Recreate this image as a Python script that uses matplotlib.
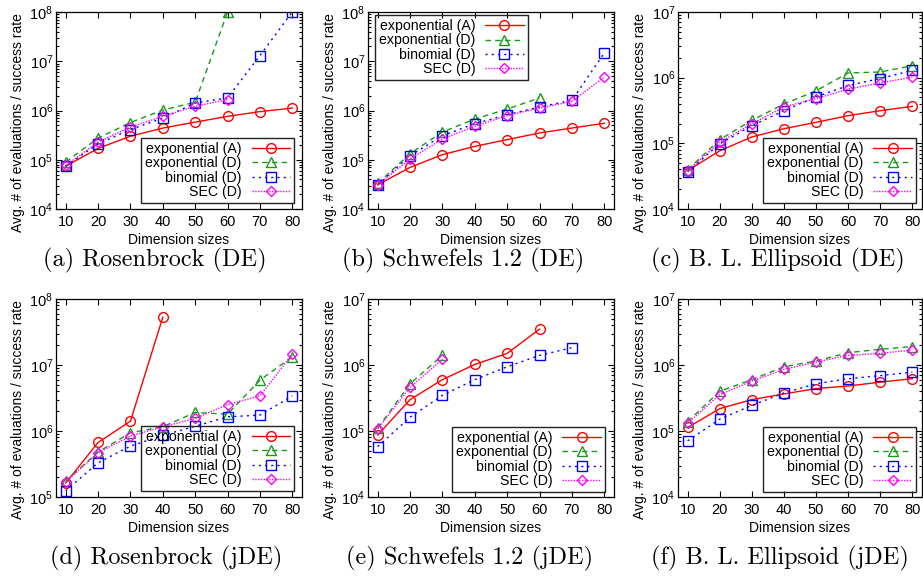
import numpy as np
import matplotlib
matplotlib.use('Agg')
import matplotlib.pyplot as plt
from matplotlib.ticker import LogLocator, LogFormatterSciNotation, NullFormatter, FixedLocator

plt.rcParams['font.family'] = ['Liberation Sans', 'DejaVu Sans']
plt.rcParams['mathtext.default'] = 'regular'
plt.rcParams['font.size'] = 10

nan = np.nan
dims = [10, 20, 30, 40, 50, 60, 70, 80]
series_labels = ['exponential (A)', 'exponential (D)', 'binomial (D)', 'SEC (D)']
captions = ['(a) Rosenbrock (DE)', '(b) Schwefels 1.2 (DE)', '(c) B. L. Ellipsoid (DE)',
            '(d) Rosenbrock (jDE)', '(e) Schwefels 1.2 (jDE)', '(f) B. L. Ellipsoid (jDE)']
xlabel_text = 'Dimension sizes'
ylabel_text = 'Avg. # of evaluations / success rate'

# (a) Rosenbrock (DE)
a_expA = [7.4e4, 1.7e5, 3.0e5, 4.4e5, 5.8e5, 7.6e5, 9.5e5, 1.12e6]
a_expD = [9.0e4, 2.75e5, 5.7e5, 1.02e6, 1.47e6, 1.0e8, nan, nan]
a_bin = [7.4e4, 2.1e5, 4.1e5, 7.0e5, 1.42e6, 1.8e6, 1.3e7, 1.0e8]
a_sec = [7.7e4, 2.3e5, 4.6e5, 7.6e5, 1.22e6, 1.66e6, nan, nan]

# (b) Schwefels 1.2 (DE)
b_expA = [3.1e4, 7.0e4, 1.27e5, 1.87e5, 2.56e5, 3.5e5, 4.4e5, 5.5e5]
b_expD = [3.3e4, 1.33e5, 3.66e5, 6.7e5, 1.07e6, 1.8e6, nan, nan]
b_bin = [3.1e4, 1.21e5, 3.08e5, 5.4e5, 8.2e5, 1.18e6, 1.61e6, 1.47e7]
b_sec = [3.1e4, 1.04e5, 2.64e5, 4.8e5, 7.9e5, 1.12e6, 1.53e6, 4.8e6]

# (c) B. L. Ellipsoid (DE)
c_expA = [3.84e4, 7.7e4, 1.25e5, 1.67e5, 2.09e5, 2.64e5, 3.14e5, 3.66e5]
c_expD = [3.97e4, 1.14e5, 2.24e5, 3.97e5, 6.3e5, 1.18e6, 1.22e6, 1.52e6]
c_bin = [3.7e4, 9.8e4, 1.86e5, 3.14e5, 5.1e5, 7.6e5, 9.7e5, 1.29e6]
c_sec = [3.84e4, 1.04e5, 1.99e5, 3.57e5, 4.8e5, 6.7e5, 8.3e5, 1.02e6]

# (d) Rosenbrock (jDE)
d_expA = [1.63e5, 6.7e5, 1.41e6, 5.3e7, nan, nan, nan, nan]
d_expD = [1.75e5, 4.8e5, 9.4e5, 1.16e6, 1.91e6, 1.8e6, 5.9e6, 1.33e7]
d_bin = [1.24e5, 3.3e5, 5.9e5, 8.6e5, 1.18e6, 1.64e6, 1.74e6, 3.4e6]
d_sec = [1.69e5, 4.7e5, 8.4e5, 1.16e6, 1.55e6, 2.52e6, 3.4e6, 1.45e7]

# (e) Schwefels 1.2 (jDE)
e_expA = [8.7e4, 2.99e5, 6.0e5, 1.02e6, 1.5e6, 3.5e6, nan, nan]
e_expD = [1.1e5, 5.2e5, 1.4e6, nan, nan, nan, nan, nan]
e_bin = [5.8e4, 1.62e5, 3.47e5, 6.0e5, 9.4e5, 1.4e6, 1.83e6, nan]
e_sec = [1.07e5, 4.6e5, 1.22e6, nan, nan, nan, nan, nan]

# (f) B. L. Ellipsoid (jDE)
f_expA = [1.13e5, 2.18e5, 2.99e5, 3.64e5, 4.4e5, 4.8e5, 5.5e5, 6.2e5]
f_expD = [1.39e5, 4.0e5, 6.0e5, 9.4e5, 1.15e6, 1.54e6, 1.73e6, 1.9e6]
f_bin = [7.1e4, 1.51e5, 2.44e5, 3.77e5, 5.2e5, 6.2e5, 6.9e5, 7.8e5]
f_sec = [1.31e5, 3.56e5, 5.7e5, 8.6e5, 1.11e6, 1.4e6, 1.5e6, 1.69e6]

panel_data = [
    [a_expA, a_expD, a_bin, a_sec],
    [b_expA, b_expD, b_bin, b_sec],
    [c_expA, c_expD, c_bin, c_sec],
    [d_expA, d_expD, d_bin, d_sec],
    [e_expA, e_expD, e_bin, e_sec],
    [f_expA, f_expD, f_bin, f_sec],
]
ylims = [(1e4, 1e8), (1e4, 1e8), (1e4, 1e7), (1e5, 1e8), (1e4, 1e7), (1e4, 1e7)]

W, H = 923, 579
fig = plt.figure(figsize=(W / 100, H / 100), dpi=100)

# axes boxes in pixels: left, right, top, bottom
boxes = [(56, 302, 12, 209), (368, 614, 12, 209), (678, 922, 12, 209),
         (56, 302, 299, 497), (368, 614, 299, 497), (678, 922, 299, 497)]
# legend anchors (axes fraction) and loc
leg_cfg = [('lower right', (0.968, 0.03)), ('upper left', (0.028, 0.985)),
           ('lower right', (0.975, 0.03)), ('lower right', (0.968, 0.03)),
           ('lower right', (0.963, 0.025)), ('lower right', (0.975, 0.025))]
cap_pos = [(155, 266), (463, 266), (778, 266), (166, 564), (470, 564), (780, 564)]

styles = [
    dict(color='#ff0000', linestyle='-', marker='o', markersize=7),
    dict(color='#1a9a1a', linestyle=(0, (4, 3)), marker='^', markersize=7.5),
    dict(color='#0000ff', linestyle=(0, (1.5, 3)), marker='s', markersize=6.8),
    dict(color='#ff00ff', linestyle=(0, (1, 1)), marker='D', markersize=5),
]

for i, (box, data) in enumerate(zip(boxes, panel_data)):
    l, r, t, b = box
    ax = fig.add_axes([l / W, 1 - b / H, (r - l) / W, (b - t) / H])
    for lab, vals, st in zip(series_labels, data, styles):
        ax.plot(dims, vals, label=lab, linewidth=1.0, markerfacecolor='none',
                markeredgewidth=1.0, **st)
    ax.set_yscale('log')
    ax.set_ylim(*ylims[i])
    ax.set_xlim(7, 83)
    ax.xaxis.set_major_locator(FixedLocator(dims))
    ax.yaxis.set_major_locator(LogLocator(base=10, numticks=10))
    ax.yaxis.set_major_formatter(LogFormatterSciNotation())
    ax.yaxis.set_minor_locator(LogLocator(base=10, subs=np.arange(2, 10), numticks=20))
    ax.yaxis.set_minor_formatter(NullFormatter())
    ax.tick_params(which='both', direction='in', top=True, right=True, width=0.8)
    ax.tick_params(which='major', length=4.5)
    ax.tick_params(which='minor', length=2.5)
    ax.tick_params(axis='x', pad=4.5, labelsize=10.5)
    ax.tick_params(axis='y', pad=2, labelsize=10.5)
    for sp in ax.spines.values():
        sp.set_linewidth(0.9)
    ax.set_xlabel(xlabel_text, fontsize=10)
    ax.set_ylabel(ylabel_text, fontsize=10)
    wpx = r - l
    hpx = b - t
    ax.yaxis.set_label_coords(-31 / wpx, 0.44)
    ax.xaxis.set_label_coords(0.5, -24 / hpx)
    loc, anchor = leg_cfg[i]
    leg = ax.legend(loc=loc, bbox_to_anchor=anchor, borderaxespad=0,
                    markerfirst=False, numpoints=1, fontsize=10.2,
                    handlelength=2.7, handletextpad=0.7, labelspacing=0.02,
                    borderpad=0.3, fancybox=False, framealpha=1)
    frame = leg.get_frame()
    frame.set_edgecolor('#222222')
    frame.set_linewidth(1.0)
    frame.set_facecolor('none')
    cx, cy = cap_pos[i]
    fig.text(cx / W, 1 - cy / H, captions[i], ha='center', va='baseline',
             fontsize=17.5, family='cmr10')

fig.savefig('out.png', dpi=100)
